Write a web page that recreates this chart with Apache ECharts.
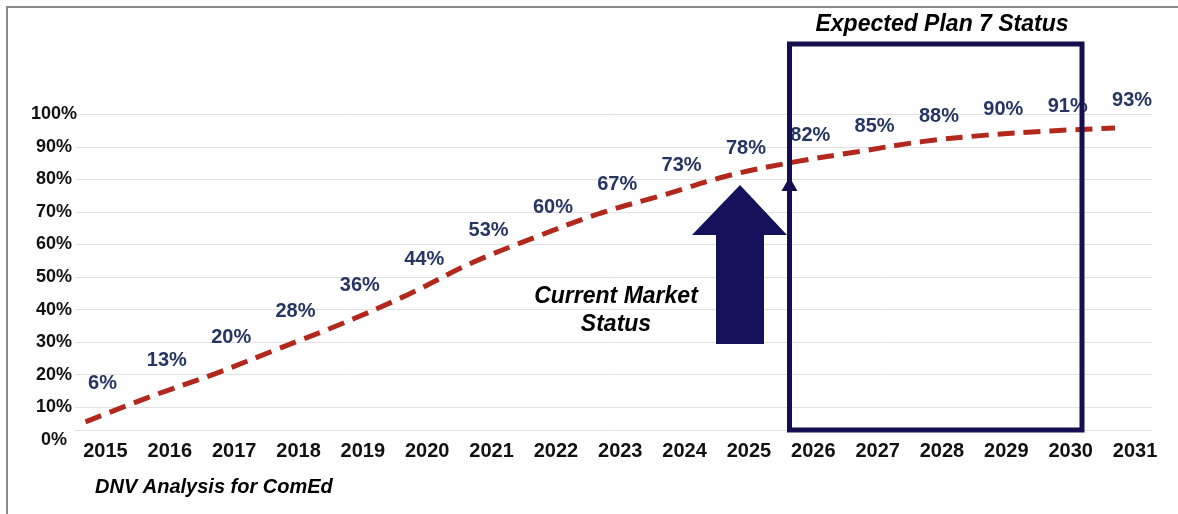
<!DOCTYPE html>
<html>
<head>
<meta charset="utf-8">
<title>DNV Analysis for ComEd</title>
<script src="https://cdn.jsdelivr.net/npm/echarts@6/dist/echarts.min.js"></script>
<style>
  html, body { margin: 0; padding: 0; background: #fff; }
  #main { width: 1178px; height: 514px; }
</style>
</head>
<body>
<div id="main"></div>
<script>
// data
var years = ["2015", "2016", "2017", "2018", "2019", "2020", "2021", "2022", "2023",
  "2024", "2025", "2026", "2027", "2028", "2029", "2030", "2031"];
// printed percentages
var labelValues = [6, 13, 20, 28, 36, 44, 53, 60, 67, 73, 78, 82, 85, 88, 90, 91, 93];
// dashed adoption curve
var curveValues = [5.5, 13.2, 20.2, 28.0, 35.8, 44.5, 54.3, 62.3, 69.6, 75.3, 81.2,
  85.3, 88.5, 91.6, 93.6, 94.9, 95.8];
var yMin = 0;
var yMax = 100;
var yStep = 10;

var FONT = '"Liberation Sans", Arial, sans-serif';
var NAVY = "#14104f";

function init_adoption_chart(container) {
  var chartDom = document.getElementById(container);
  var myChart = echarts.init(chartDom, null, { renderer: "canvas" });
  var option;

  var hiddenY = {
    type: "value", min: yMin, max: yMax, interval: yStep, show: false,
    splitLine: { show: false },
  };

  option = {
    animation: false,
    backgroundColor: "#fff",
    grid: [
      // gridlines + y labels
      { left: 75, right: 26, top: 114.3, bottom: 74.2 },
      // year labels + value labels
      { left: 73.3, right: 10.8, top: 114.3, bottom: 74.2 },
      // dashed curve (sits a little left of the years)
      { left: 53.3, right: 30.8, top: 114.3, bottom: 74.2 },
    ],
    xAxis: [
      {
        gridIndex: 0, type: "category", data: years,
        axisLine: { show: true, onZero: false, lineStyle: { color: "#e2e2e2", width: 1 } },
        offset: -9.8,
        axisTick: { show: false },
        axisLabel: { show: false },
      },
      {
        gridIndex: 1, type: "category", data: years,
        axisLine: { show: false },
        axisTick: { show: false },
        axisLabel: {
          interval: 0, margin: 2, color: "#111",
          fontFamily: FONT, fontWeight: "bold", fontSize: 20, lineHeight: 20,
        },
      },
      { gridIndex: 2, type: "category", data: years, show: false },
    ],
    yAxis: [
      {
        gridIndex: 0, type: "value", min: yMin, max: yMax, interval: yStep,
        axisLine: { show: false },
        axisTick: { show: false },
        splitLine: { showMinLine: false, lineStyle: { color: "#e2e2e2", width: 1 } },
        axisLabel: {
          formatter: "{value}%", align: "center", margin: 21,
          padding: [0, 0, 7, 0],
          color: "#111", fontFamily: FONT, fontWeight: "bold", fontSize: 18,
        },
      },
      Object.assign({ gridIndex: 1 }, hiddenY),
      Object.assign({ gridIndex: 2 }, hiddenY),
    ],
    series: [
      {
        name: "curve",
        type: "line",
        xAxisIndex: 2,
        yAxisIndex: 2,
        data: curveValues,
        smooth: 0.4,
        symbol: "none",
        lineStyle: { color: "#b3281d", width: 5, type: [17, 9], cap: "butt" },
        z: 3,
      },
      {
        name: "labels",
        type: "scatter",
        xAxisIndex: 1,
        yAxisIndex: 1,
        data: labelValues,
        symbolSize: 0,
        itemStyle: { opacity: 1 },
        label: {
          show: true,
          position: "inside",
          offset: [-3, -37],
          formatter: "{c}%",
          color: "#263562",
          opacity: 1,
          fontFamily: FONT,
          fontWeight: "bold",
          fontSize: 20,
        },
        z: 4,
      },
    ],
    graphic: [
      // outer frame (top and left edges)
      {
        type: "polyline", silent: true, z: 10,
        shape: { points: [[7, 514], [7, 7], [1178, 7]] },
        style: { stroke: "#8a8a8a", lineWidth: 2, fill: null },
      },
      // expected plan box
      {
        type: "rect", silent: true, z: 10,
        shape: { x: 789.5, y: 44, width: 292.5, height: 386 },
        style: { stroke: NAVY, lineWidth: 5, fill: null },
      },
      {
        type: "text", silent: true, z: 10,
        style: {
          text: "Expected Plan 7 Status", x: 942, y: 25,
          textAlign: "center", textVerticalAlign: "middle",
          align: "center", verticalAlign: "middle",
          font: "italic bold 23px " + FONT, fill: "#000",
        },
      },
      // big up arrow
      {
        type: "polygon", silent: true, z: 10,
        shape: {
          points: [[740, 185], [787, 235], [764, 235], [764, 344],
            [716, 344], [716, 235], [692, 235]],
        },
        style: { fill: "#15115b" },
      },
      // small arrow head on the box edge
      {
        type: "polygon", silent: true, z: 9,
        shape: { points: [[789.5, 177], [797.5, 191], [781.5, 191]] },
        style: { fill: NAVY },
      },
      {
        type: "text", silent: true, z: 10,
        style: {
          text: "Current Market\nStatus", x: 616, y: 311,
          textAlign: "center", textVerticalAlign: "middle",
          align: "center", verticalAlign: "middle",
          lineHeight: 28,
          font: "italic bold 23px " + FONT, fill: "#000",
        },
      },
      {
        type: "text", silent: true, z: 10,
        style: {
          text: "DNV Analysis for ComEd", x: 95, y: 487,
          textAlign: "left", textVerticalAlign: "middle",
          align: "left", verticalAlign: "middle",
          font: "italic bold 20px " + FONT, fill: "#000",
        },
      },
    ],
  };

  option && myChart.setOption(option);
  window.addEventListener("resize", function () {
    myChart.resize();
  });
}

init_adoption_chart("main");
</script>
</body>
</html>
